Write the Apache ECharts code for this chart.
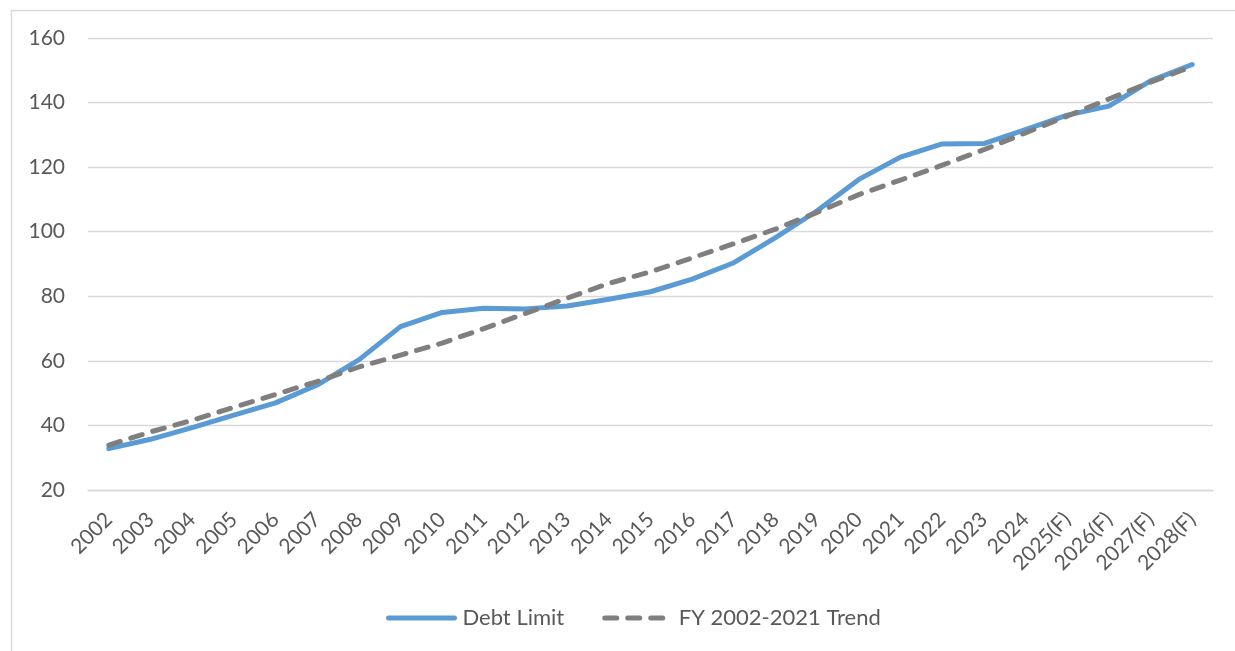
<!DOCTYPE html>
<html>
<head>
<meta charset="utf-8">
<script src="https://cdn.jsdelivr.net/npm/echarts@6/dist/echarts.min.js"></script>
<style>
  html, body { margin: 0; padding: 0; background: #fff; }
  #chart { width: 1235px; height: 651px; }
</style>
</head>
<body>
<div id="chart"></div>
<script>
// Fiscal years on the category axis
const years = ['2002','2003','2004','2005','2006','2007','2008','2009','2010','2011',
  '2012','2013','2014','2015','2016','2017','2018','2019','2020','2021','2022','2023',
  '2024','2025(F)','2026(F)','2027(F)','2028(F)'];

// Statutory debt limit by year
const debtLimit = [32.8, 35.7, 39.3, 43.2, 47.0, 52.5, 60.3, 70.6, 75.0, 76.3,
  76.1, 77.0, 79.1, 81.4, 85.3, 90.4, 98.2, 106.5, 116.2, 123.1, 127.2, 127.3,
  131.6, 136.1, 138.9, 146.7, 151.8];

// Trend line fitted on FY 2002-2021
const trend = [33.9, 38.0, 41.6, 45.6, 49.6, 53.6, 58.1, 61.8, 65.5, 70.0,
  74.7, 79.4, 84.0, 87.6, 91.9, 96.3, 100.8, 106.0, 111.5, 116.0, 120.6, 125.4,
  130.6, 135.8, 141.1, 146.3, 151.2];

// Value axis ticks
const yMin = 20, yMax = 160, yStep = 20;

const textColor = '#595959';
const fontFamily = 'Lato, "Open Sans", "Noto Sans", sans-serif';

const chart = echarts.init(document.getElementById('chart'));
chart.setOption({
  animation: false,
  backgroundColor: '#fff',
  graphic: [{
    type: 'rect',
    shape: { x: 11.5, y: 10.5, width: 1240, height: 660 },
    style: { fill: 'none', stroke: '#d9d9d9', lineWidth: 1.5 },
    silent: true
  }],
  grid: { left: 88, right: 22, top: 38, bottom: 161, containLabel: false },
  legend: {
    bottom: 17,
    left: 381,
    itemWidth: 66,
    itemHeight: 12,
    itemGap: 38,
    itemStyle: { opacity: 0 },
    textStyle: { color: textColor, fontSize: 22, fontFamily: fontFamily, padding: [0, 0, 0, 3] },
    data: [
      { name: 'Debt Limit', lineStyle: { color: '#5b9bd5', width: 5, cap: 'round' } },
      { name: 'FY 2002-2021 Trend', lineStyle: { color: '#7f7f7f', width: 5, type: [12, 11], cap: 'round' } }
    ]
  },
  xAxis: {
    type: 'category',
    data: years,
    boundaryGap: true,
    axisLine: { lineStyle: { color: '#d9d9d9', width: 1.3 } },
    axisTick: { show: false },
    axisLabel: {
      interval: 0,
      rotate: 45,
      margin: 26,
      color: textColor,
      fontSize: 21,
      fontFamily: fontFamily
    }
  },
  yAxis: {
    type: 'value',
    min: yMin,
    max: yMax,
    interval: yStep,
    axisLine: { show: false },
    axisTick: { show: false },
    axisLabel: { color: textColor, fontSize: 21, fontFamily: fontFamily, margin: 23 },
    splitLine: { lineStyle: { color: '#d9d9d9', width: 1.3 } }
  },
  series: [
    {
      name: 'Debt Limit',
      type: 'line',
      data: debtLimit,
      symbol: 'none',
      z: 3,
      lineStyle: { color: '#5b9bd5', width: 5, cap: 'round', join: 'round' },
      itemStyle: { color: '#5b9bd5' }
    },
    {
      name: 'FY 2002-2021 Trend',
      type: 'line',
      data: trend,
      symbol: 'none',
      z: 4,
      lineStyle: { color: '#7f7f7f', width: 5, type: [12, 11], cap: 'round', join: 'round' },
      itemStyle: { color: '#7f7f7f' }
    }
  ]
});
</script>
</body>
</html>
